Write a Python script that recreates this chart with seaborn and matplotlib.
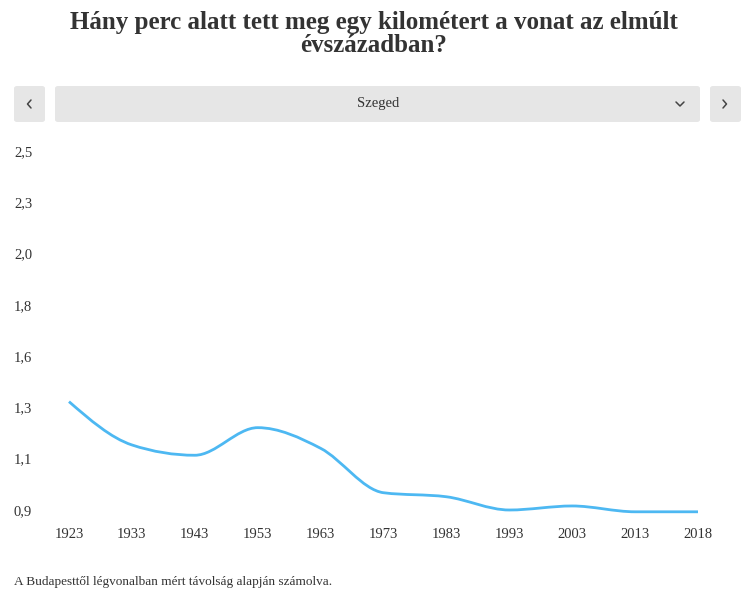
import numpy as np
import matplotlib
matplotlib.use("Agg")
import matplotlib.pyplot as plt
import seaborn as sns
from matplotlib.path import Path
from matplotlib.patches import PathPatch, FancyBboxPatch
from matplotlib.lines import Line2D

# ---- data ----
years = ["1923", "1933", "1943", "1953", "1963", "1973", "1983", "1993", "2003", "2013", "2018"]
minutes_per_km = [1.383, 1.190, 1.144, 1.267, 1.175, 0.977, 0.959, 0.900, 0.918, 0.892, 0.892]
ytick_values = [0.9, 1.129, 1.357, 1.586, 1.814, 2.043, 2.271, 2.5]
ytick_labels = ["0,9", "1,1", "1,3", "1,6", "1,8", "2,0", "2,3", "2,5"]
title = "Hány perc alatt tett meg egy kilométert a vonat az elmúlt\névszázadban?"
city = "Szeged"
footnote = "A Budapesttől légvonalban mért távolság alapján számolva."

sns.set_theme(style="white")
plt.rcParams["font.family"] = ["Liberation Serif", "DejaVu Serif"]

W, H = 748, 598
fig = plt.figure(figsize=(W / 100, H / 100), dpi=100)

def fx(px):
    return px / W

def fy(py):
    return 1 - py / H

# axes placement (pixels)
ax_l, ax_r, ax_t, ax_b = 60, 707, 140, 520
ax = fig.add_axes([fx(ax_l), fy(ax_b), fx(ax_r - ax_l), (ax_b - ax_t) / H])

n = len(years)
xs = np.arange(n, dtype=float)
ys = np.array(minutes_per_km, dtype=float)
step = (698 - 69) / (n - 1)
ax.set_xlim(-(69 - ax_l) / step, (n - 1) + (ax_r - 698) / step)
ppu = (510 - 151) / (2.5 - 0.9)
ax.set_ylim(0.9 - (ax_b - 510) / ppu, 2.5 + (151 - ax_t) / ppu)

# seaborn line for the data (invisible base, smooth curve drawn below)
sns.lineplot(x=xs, y=ys, ax=ax, linewidth=0, color="#4db8f2")

# monotone-x smooth curve (like d3.curveMonotoneX)
h = np.diff(xs)
s = np.diff(ys) / h
t = np.zeros(n)
for i in range(1, n - 1):
    h0, h1 = h[i - 1], h[i]
    s0, s1 = s[i - 1], s[i]
    p = (s0 * h1 + s1 * h0) / (h0 + h1)
    t[i] = (np.sign(s0) + np.sign(s1)) * min(abs(s0), abs(s1), 0.5 * abs(p))
t[0] = (3 * s[0] - t[1]) / 2
t[-1] = (3 * s[-1] - t[-2]) / 2
verts = [(xs[0], ys[0])]
codes = [Path.MOVETO]
for i in range(n - 1):
    dx = (xs[i + 1] - xs[i]) / 3
    verts += [(xs[i] + dx, ys[i] + dx * t[i]),
              (xs[i + 1] - dx, ys[i + 1] - dx * t[i + 1]),
              (xs[i + 1], ys[i + 1])]
    codes += [Path.CURVE4] * 3
ax.add_patch(PathPatch(Path(verts, codes), facecolor="none",
                       edgecolor="#4db8f2", linewidth=2.0, capstyle="butt"))

ax.set_xticks(xs)
ax.set_xticklabels(years)
ax.set_yticks(ytick_values)
ax.set_yticklabels(ytick_labels)
ax.tick_params(axis="x", length=0, pad=6, labelsize=10.5, labelcolor="#333333")
ax.tick_params(axis="y", length=0, pad=(ax_l - 14) * 0.72, labelsize=10.5, labelcolor="#333333")
for lab in ax.get_yticklabels():
    lab.set_horizontalalignment("left")
ax.grid(False)
sns.despine(ax=ax, left=True, bottom=True)
ax.set_xlabel("")
ax.set_ylabel("")

# title
fig.text(0.5, fy(34), title, ha="center", va="center", fontsize=18,
         fontweight="bold", color="#333333", linespacing=1.05)

# dropdown controls
bg = "#e6e6e6"
def box(x0, x1, y0=86, y1=122):
    fig.patches.append(FancyBboxPatch((fx(x0), fy(y1)), fx(x1 - x0), (y1 - y0) / H,
                                      boxstyle="round,pad=0,rounding_size=0.004",
                                      transform=fig.transFigure, facecolor=bg,
                                      edgecolor="none", figure=fig))
box(14, 45)
box(55, 700)
box(710, 741)
fig.text(fx(378), fy(104), city, ha="center", va="center", fontsize=10.5, color="#333333")

def chevron(pts):
    fig.lines.append(Line2D([fx(p[0]) for p in pts], [fy(p[1]) for p in pts],
                            transform=fig.transFigure, color="#444444", linewidth=1.1,
                            figure=fig))
chevron([(31, 100), (27.5, 104), (31, 108)])
chevron([(723, 100), (726.5, 104), (723, 108)])
chevron([(676, 102), (680, 106), (684, 102)])

# footnote
fig.text(fx(14), fy(582), footnote, ha="left", va="center", fontsize=9.5, color="#333333")

fig.savefig("out.png", dpi=100, facecolor="white")
